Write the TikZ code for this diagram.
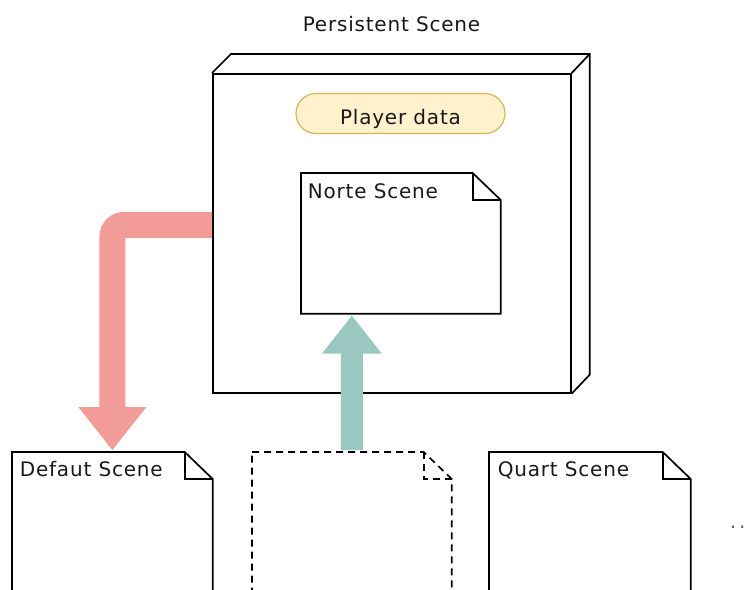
\documentclass[tikz,border=0pt]{standalone}
\usepackage{fontspec}
\setmainfont[LetterSpace=4]{DejaVu Sans}
\usetikzlibrary{calc}
\definecolor{pillfill}{HTML}{FFF2CC}
\definecolor{pillline}{HTML}{D6B656}
\definecolor{redarrow}{HTML}{F19C99}
\definecolor{tealarrow}{HTML}{9AC7BF}
\tikzset{
  sheet/.style={rectangle, inner sep=0pt, anchor=north west},
  caption/.style={anchor=base west, inner sep=0pt, text=black!90},
  labelfont/.style={font=\fontsize{20}{24}\selectfont},
}
% folded-corner document outline around a sheet node
\newcommand\drawsheet[2][]{%
  \draw[#1] (#2.north west) -- ([xshift=-28pt]#2.north east)
     -- ([yshift=-27pt]#2.north east) -- (#2.south east)
     -- (#2.south west) -- cycle;
  \draw[#1] ([xshift=-28pt]#2.north east)
     -- ([xshift=-28pt,yshift=-27pt]#2.north east)
     -- ([yshift=-27pt]#2.north east);}
\begin{document}
\begin{tikzpicture}[x=1pt,y=-1pt,line width=1.7pt,labelfont]
\clip (0,0) rectangle (746,589);

% frames of the scenes
\node[sheet, minimum width=198pt, minimum height=139pt] (norte)  at (301,173) {};
\node[sheet, minimum width=199pt, minimum height=160pt] (defaut) at (12,452) {};
\node[sheet, minimum width=198pt, minimum height=160pt] (blank)  at (252,452) {};
\node[sheet, minimum width=200pt, minimum height=160pt] (quart)  at (489,452) {};

% persistent scene as a 3D box
\node[draw, rectangle, inner sep=0pt, minimum width=358pt, minimum height=319pt,
      anchor=north west] (persist) at (212,73) {};
\draw (persist.north west) -- ++(19,-19) -- ([shift={(18,-19)}]persist.north east)
      -- ([shift={(18,-19)}]persist.south east) -- (persist.south east);
\draw (persist.north east) -- ++(18,-19);
\node[text=black!90, anchor=base, inner sep=0pt] (title) at (391.5,31.5) {Persistent Scene};

\node[draw=pillline, fill=pillfill, line width=1.2pt, rounded corners=20pt,
      minimum width=209pt, minimum height=40pt, inner sep=0pt, text=black!90,
      text height=21.6pt, text depth=0pt]
      (player) at (400.5,113.5) {Player data};

\drawsheet{norte}
\node[caption] (norteT) at ([xshift=6pt,yshift=-25pt]norte.north west) {Norte Scene};

% unload arrow: persistent scene -> default scene
\coordinate (rs) at ([yshift=8.5pt]persist.west);
\coordinate (rt) at ([yshift=2pt]defaut.north);
\fill[redarrow] let \p1=(rs), \p2=(rt) in
  (\x1,\y1+13pt) -- (\x2+12pt,\y1+13pt)
  .. controls (\x2-2pt,\y1+13pt) and (\x2-13pt,\y1+2pt) .. (\x2-13pt,\y1-12pt)
  -- (\x2-13pt,\y2+43pt) -- (\x2-34pt,\y2+43pt) -- (\x2,\y2)
  -- (\x2+34pt,\y2+43pt) -- (\x2+13pt,\y2+43pt) -- (\x2+13pt,\y1-13pt)
  -- (\x1,\y1-13pt) -- cycle;

% load arrow: empty slot -> norte scene
\coordinate (tb) at ([yshift=2pt]blank.north);
\coordinate (tt) at ([yshift=-2pt]blank.north |- norte.south);
\fill[tealarrow] let \p1=(tb), \p2=(tt) in
  (\x1-11pt,\y1) -- (\x1-11pt,\y2-38pt) -- (\x1-30pt,\y2-38pt) -- (\x2,\y2)
  -- (\x1+30pt,\y2-38pt) -- (\x1+11pt,\y2-38pt) -- (\x1+11pt,\y1) -- cycle;

% scenes in the lower row
\drawsheet{defaut}
\node[caption] (defautT) at ([xshift=7pt,yshift=-24pt]defaut.north west) {Defaut Scene};
\drawsheet[dash pattern=on 7pt off 5pt]{blank}
\drawsheet{quart}
\node[caption] (quartT) at ([xshift=8pt,yshift=-24.5pt]quart.north west) {Quart Scene};

\node[text=black!60, anchor=base west, inner sep=0pt] (more) at (729,528) {.\kern3pt.};
\end{tikzpicture}
\end{document}
